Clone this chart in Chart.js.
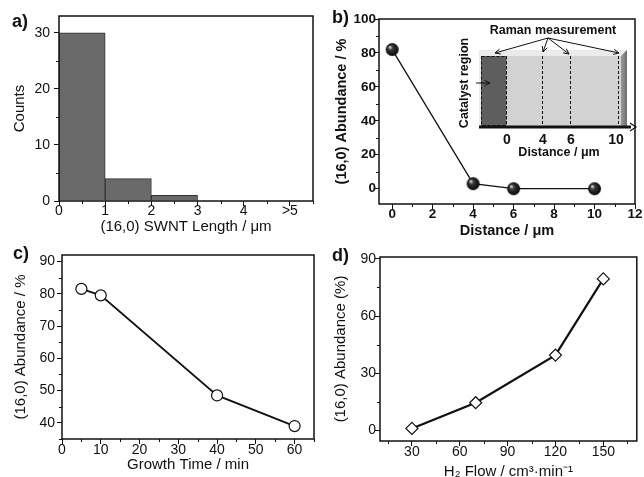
<!DOCTYPE html>
<html>
<head>
<meta charset="utf-8">
<title>(16,0) SWNT abundance</title>
<script src="https://cdn.jsdelivr.net/npm/chart.js@4.4.1/dist/chart.umd.min.js"></script>
<style>
    html, body { margin: 0; padding: 0; background: #fff; }
    #wrap { position: relative; width: 644px; height: 477px; overflow: hidden; }
    #wrap canvas { position: absolute; left: 0; top: 0; }
</style>
</head>
<body>
<div id="wrap">
    <canvas id="chartA" width="644" height="477"></canvas>
    <canvas id="chartB" width="644" height="477"></canvas>
    <canvas id="chartC" width="644" height="477"></canvas>
    <canvas id="chartD" width="644" height="477"></canvas>
</div>
<script>
// a) length histogram
const lengthBins = [0.5, 1.5, 2.5, 3.5, 4.5];
const lengthCounts = [30, 4, 1, 0, 0];
const lengthTicks = [0, 1, 2, 3, 4, 5];
const lengthTickLabels = ['0', '1', '2', '3', '4', '>5'];
const countTicks = [0, 10, 20, 30];

// b) abundance vs distance
const distance = [0, 4, 6, 10];
const abundanceByDistance = [82, 3, 0, 0];
const distanceTicks = [0, 2, 4, 6, 8, 10, 12];
const abundanceTicksB = [0, 20, 40, 60, 80, 100];
const insetLabels = ['0', '4', '6', '10'];

// c) abundance vs growth time
const growthTime = [5, 10, 40, 60];
const abundanceByTime = [81.5, 79.5, 48.5, 39];
const timeTicks = [0, 10, 20, 30, 40, 50, 60];
const abundanceTicksC = [40, 50, 60, 70, 80, 90];

// d) abundance vs H2 flow
const h2Flow = [30, 70, 120, 150];
const abundanceByFlow = [1, 14.5, 39.5, 79.5];
const flowTicks = [30, 60, 90, 120, 150];
const abundanceTicksD = [0, 30, 60, 90];

const W = 644, H = 477;
const INK = '#111';
const FONT = '"Liberation Sans", Arial, sans-serif';
Chart.defaults.font.family = FONT;
Chart.defaults.color = INK;

// minor ticks halfway between the majors, also beyond the ends
function minorValues(scale) {
    const majors = scale.options.majorTicks;
    const step = majors[1] - majors[0];
    const out = [];
    for (let v = majors[0] - step / 2; v >= scale.min; v -= step) out.push(v);
    for (let v = majors[0] + step / 2; v <= scale.max; v += step) out.push(v);
    return out;
}

// box round the plot, minor ticks and the panel letter
const framePlugin = {
    id: 'frame',
    afterDraw(chart, args, opts) {
        const { ctx, chartArea: a, scales } = chart;
        ctx.save();
        ctx.strokeStyle = INK;
        ctx.lineWidth = 1.5;
        ctx.strokeRect(a.left, a.top, a.right - a.left, a.bottom - a.top);

        ctx.lineWidth = 1;
        ctx.beginPath();
        minorValues(scales.x).forEach(v => {
            const px = Math.round(scales.x.getPixelForValue(v)) + 0.5;
            ctx.moveTo(px, a.bottom);
            ctx.lineTo(px, a.bottom + 3);
        });
        minorValues(scales.y).forEach(v => {
            const py = Math.round(scales.y.getPixelForValue(v)) + 0.5;
            ctx.moveTo(a.left, py);
            ctx.lineTo(a.left - 3, py);
        });
        ctx.stroke();

        if (opts.label) {
            ctx.fillStyle = INK;
            ctx.font = 'bold 18px ' + FONT;
            ctx.textBaseline = 'alphabetic';
            ctx.fillText(opts.label, opts.x, opts.y);
        }
        ctx.restore();
    }
};

// schematic inset of panel b (catalyst region + Raman spots)
const insetPlugin = {
    id: 'inset',
    afterDraw(chart, args, opts) {
        if (!opts.show) return;
        const ctx = chart.ctx;
        const x0 = 480, x1 = 627, y0 = 50, y1 = 128;
        const spots = [506, 542, 570, 618];

        ctx.save();
        // bevelled substrate
        ctx.fillStyle = '#ebebeb';
        ctx.fillRect(x0 - 1, y0, x1 - x0 + 1, y1 - y0);
        ctx.fillStyle = '#d2d2d2';
        ctx.fillRect(x0 + 1, y0 + 6, x1 - x0 - 7, y1 - y0 - 8);
        const side = ctx.createLinearGradient(x1 - 6, 0, x1, 0);
        side.addColorStop(0, '#9a9a9a');
        side.addColorStop(1, '#6e6e6e');
        ctx.fillStyle = side;
        ctx.beginPath();
        ctx.moveTo(x1 - 6, y0 + 6);
        ctx.lineTo(x1, y0);
        ctx.lineTo(x1, y1);
        ctx.lineTo(x1 - 6, y1 - 2);
        ctx.closePath();
        ctx.fill();
        ctx.fillStyle = '#5e5e5e';
        ctx.fillRect(x0 + 1, y0 + 6, spots[0] - x0 - 1, y1 - y0 - 8);

        // dashed catalyst box and measurement lines
        ctx.strokeStyle = INK;
        ctx.lineWidth = 1;
        ctx.setLineDash([3, 2]);
        ctx.strokeRect(x0 + 1.5, y0 + 6.5, spots[0] - x0 - 1, y1 - y0 - 9);
        ctx.beginPath();
        spots.forEach(x => {
            ctx.moveTo(x + 0.5, y0 + 6);
            ctx.lineTo(x + 0.5, y1 - 2);
        });
        ctx.stroke();
        ctx.setLineDash([]);

        // distance axis arrow
        ctx.lineWidth = 3;
        ctx.beginPath();
        ctx.moveTo(x0 - 1, y1 - 1);
        ctx.lineTo(x1 + 4, y1 - 1);
        ctx.stroke();
        ctx.lineWidth = 1.2;
        ctx.beginPath();
        ctx.moveTo(x1 + 3, y1 - 5);
        ctx.lineTo(x1 + 9, y1 - 1);
        ctx.lineTo(x1 + 3, y1 + 3);
        ctx.stroke();

        // arrows helper
        function arrow(xa, ya, xb, yb) {
            const ang = Math.atan2(yb - ya, xb - xa);
            ctx.beginPath();
            ctx.moveTo(xa, ya);
            ctx.lineTo(xb, yb);
            ctx.moveTo(xb - 6 * Math.cos(ang - 0.45), yb - 6 * Math.sin(ang - 0.45));
            ctx.lineTo(xb, yb);
            ctx.lineTo(xb - 6 * Math.cos(ang + 0.45), yb - 6 * Math.sin(ang + 0.45));
            ctx.stroke();
        }
        ctx.lineWidth = 1;
        arrow(548, 38, 495, 53);
        arrow(548, 38, 543, 52);
        arrow(548, 38, 569, 54);
        arrow(548, 38, 619, 53);
        arrow(476, 83, 490, 83);

        // texts
        ctx.fillStyle = INK;
        ctx.textAlign = 'center';
        ctx.textBaseline = 'middle';
        ctx.font = 'bold 12.5px ' + FONT;
        ctx.fillText('Raman measurement', 553, 31);
        ctx.fillText('Distance / μm', 559, 153);
        ctx.font = 'bold 14px ' + FONT;
        insetLabels.forEach((t, i) => ctx.fillText(t, spots[i] + (i === 3 ? -2 : 1), 140));
        ctx.save();
        ctx.translate(465, 83);
        ctx.rotate(-Math.PI / 2);
        ctx.font = 'bold 12.5px ' + FONT;
        ctx.fillText('Catalyst region', 0, 0);
        ctx.restore();
        ctx.restore();
    }
};

Chart.register(framePlugin, insetPlugin);

// one axis with fixed box size so the plot area lands where it should
function makeAxis(o) {
    const horizontal = o.horizontal;
    const weight = o.bold ? 'bold' : 'normal';
    return {
        type: 'linear',
        min: o.min,
        max: o.max,
        offset: false,
        majorTicks: o.ticks,
        afterBuildTicks: s => { s.ticks = o.ticks.map(v => ({ value: v })); },
        afterFit: s => {
            if (horizontal) {
                s.height = H - o.edge;
                s.paddingLeft = 0;
                s.paddingRight = 0;
            } else {
                s.width = o.edge;
                s.paddingTop = 0;
                s.paddingBottom = 0;
            }
        },
        grid: { drawOnChartArea: false, drawTicks: true, tickLength: 5, tickColor: INK, tickWidth: 1, offset: false },
        border: { display: false },
        ticks: {
            color: INK,
            font: { size: o.bold ? 13.5 : 14, weight: weight },
            padding: o.pad,
            maxRotation: 0,
            autoSkip: false,
            callback: (v, i) => (o.labels ? o.labels[i] : String(v))
        },
        title: {
            display: true,
            text: o.title,
            color: INK,
            font: { size: o.bold ? 14.5 : 15, weight: weight },
            padding: horizontal ? { top: 0, bottom: H - 9 - o.titleAt } : { top: o.titleAt - 9, bottom: 0 }
        }
    };
}

function baseOptions(plot, label, xAxis, yAxis, inset) {
    return {
        responsive: false,
        animation: false,
        devicePixelRatio: 1,
        layout: { padding: { left: 0, top: plot.top, right: W - plot.right, bottom: 0 } },
        plugins: {
            legend: { display: false },
            tooltip: { enabled: false },
            frame: label,
            inset: { show: !!inset }
        },
        scales: { x: xAxis, y: yAxis }
    };
}

function toPoints(xs, ys) {
    return xs.map((x, i) => ({ x: x, y: ys[i] }));
}

function sphere(r) {
    const c = document.createElement('canvas');
    c.width = c.height = 2 * r + 2;
    const g = c.getContext('2d');
    const grad = g.createRadialGradient(r - 1.5, r - 1.5, 0.3, r + 1, r + 1, r + 0.5);
    grad.addColorStop(0, '#e8e8e8');
    grad.addColorStop(0.3, '#3a3a3a');
    grad.addColorStop(1, '#000');
    g.fillStyle = grad;
    g.beginPath();
    g.arc(r + 1, r + 1, r, 0, Math.PI * 2);
    g.fill();
    return c;
}

// a) histogram
const plotA = { left: 59, top: 16, right: 313, bottom: 201 };
new Chart(document.getElementById('chartA'), {
    type: 'bar',
    data: {
        datasets: [{
            data: toPoints(lengthBins, lengthCounts),
            backgroundColor: '#6a6a6a',
            borderColor: '#333',
            borderWidth: 1,
            barPercentage: 1,
            categoryPercentage: 1
        }]
    },
    options: baseOptions(plotA, { label: 'a)', x: 12, y: 27 },
        makeAxis({ horizontal: true, min: 0, max: 5.5, ticks: lengthTicks, labels: lengthTickLabels,
            title: '(16,0) SWNT Length / μm', edge: plotA.bottom, titleAt: 227, pad: -3 }),
        makeAxis({ min: 0, max: 33, ticks: countTicks, title: 'Counts', edge: plotA.left, titleAt: 20, pad: 4 }))
});

// b) distance from catalyst
const plotB = { left: 379, top: 19, right: 635, bottom: 204 };
new Chart(document.getElementById('chartB'), {
    type: 'line',
    data: {
        datasets: [{
            data: toPoints(distance, abundanceByDistance),
            borderColor: INK,
            borderWidth: 1.3,
            tension: 0,
            pointStyle: sphere(6.5),
            pointRadius: 6.5
        }]
    },
    options: baseOptions(plotB, { label: 'b)', x: 332, y: 23 },
        makeAxis({ horizontal: true, min: -0.65, max: 12, ticks: distanceTicks, bold: true,
            title: 'Distance / μm', edge: plotB.bottom, titleAt: 231, pad: -3 }),
        makeAxis({ min: -9, max: 100, ticks: abundanceTicksB, title: '(16,0) Abundance / %', bold: true,
            edge: plotB.left, titleAt: 342, pad: -2 }), true)
});

// c) growth time
const plotC = { left: 62, top: 255, right: 314, bottom: 439 };
new Chart(document.getElementById('chartC'), {
    type: 'line',
    data: {
        datasets: [{
            data: toPoints(growthTime, abundanceByTime),
            borderColor: INK,
            borderWidth: 1.8,
            tension: 0,
            pointStyle: 'circle',
            pointRadius: 5.5,
            pointBackgroundColor: '#fff',
            pointBorderColor: INK,
            pointBorderWidth: 1.2
        }]
    },
    options: baseOptions(plotC, { label: 'c)', x: 13, y: 259 },
        makeAxis({ horizontal: true, min: 0, max: 65, ticks: timeTicks,
            title: 'Growth Time / min', edge: plotC.bottom, titleAt: 465, pad: -2 }),
        makeAxis({ min: 35, max: 92, ticks: abundanceTicksC, title: '(16,0) Abundance / %',
            edge: plotC.left, titleAt: 21, pad: 2 }))
});

// d) H2 flow
const plotD = { left: 380, top: 257, right: 638, bottom: 441 };
new Chart(document.getElementById('chartD'), {
    type: 'line',
    data: {
        datasets: [{
            data: toPoints(h2Flow, abundanceByFlow),
            borderColor: INK,
            borderWidth: 2.2,
            tension: 0,
            pointStyle: 'rectRot',
            pointRadius: 6,
            pointBackgroundColor: '#fff',
            pointBorderColor: INK,
            pointBorderWidth: 1.2
        }]
    },
    options: baseOptions(plotD, { label: 'd)', x: 332, y: 261 },
        makeAxis({ horizontal: true, min: 10, max: 171, ticks: flowTicks,
            title: 'H₂ Flow / cm³·min⁻¹', edge: plotD.bottom, titleAt: 472, pad: -2 }),
        makeAxis({ min: -5.6, max: 91, ticks: abundanceTicksD, title: '(16,0) Abundance (%)',
            edge: plotD.left, titleAt: 341, pad: -1 }))
});
</script>
</body>
</html>
